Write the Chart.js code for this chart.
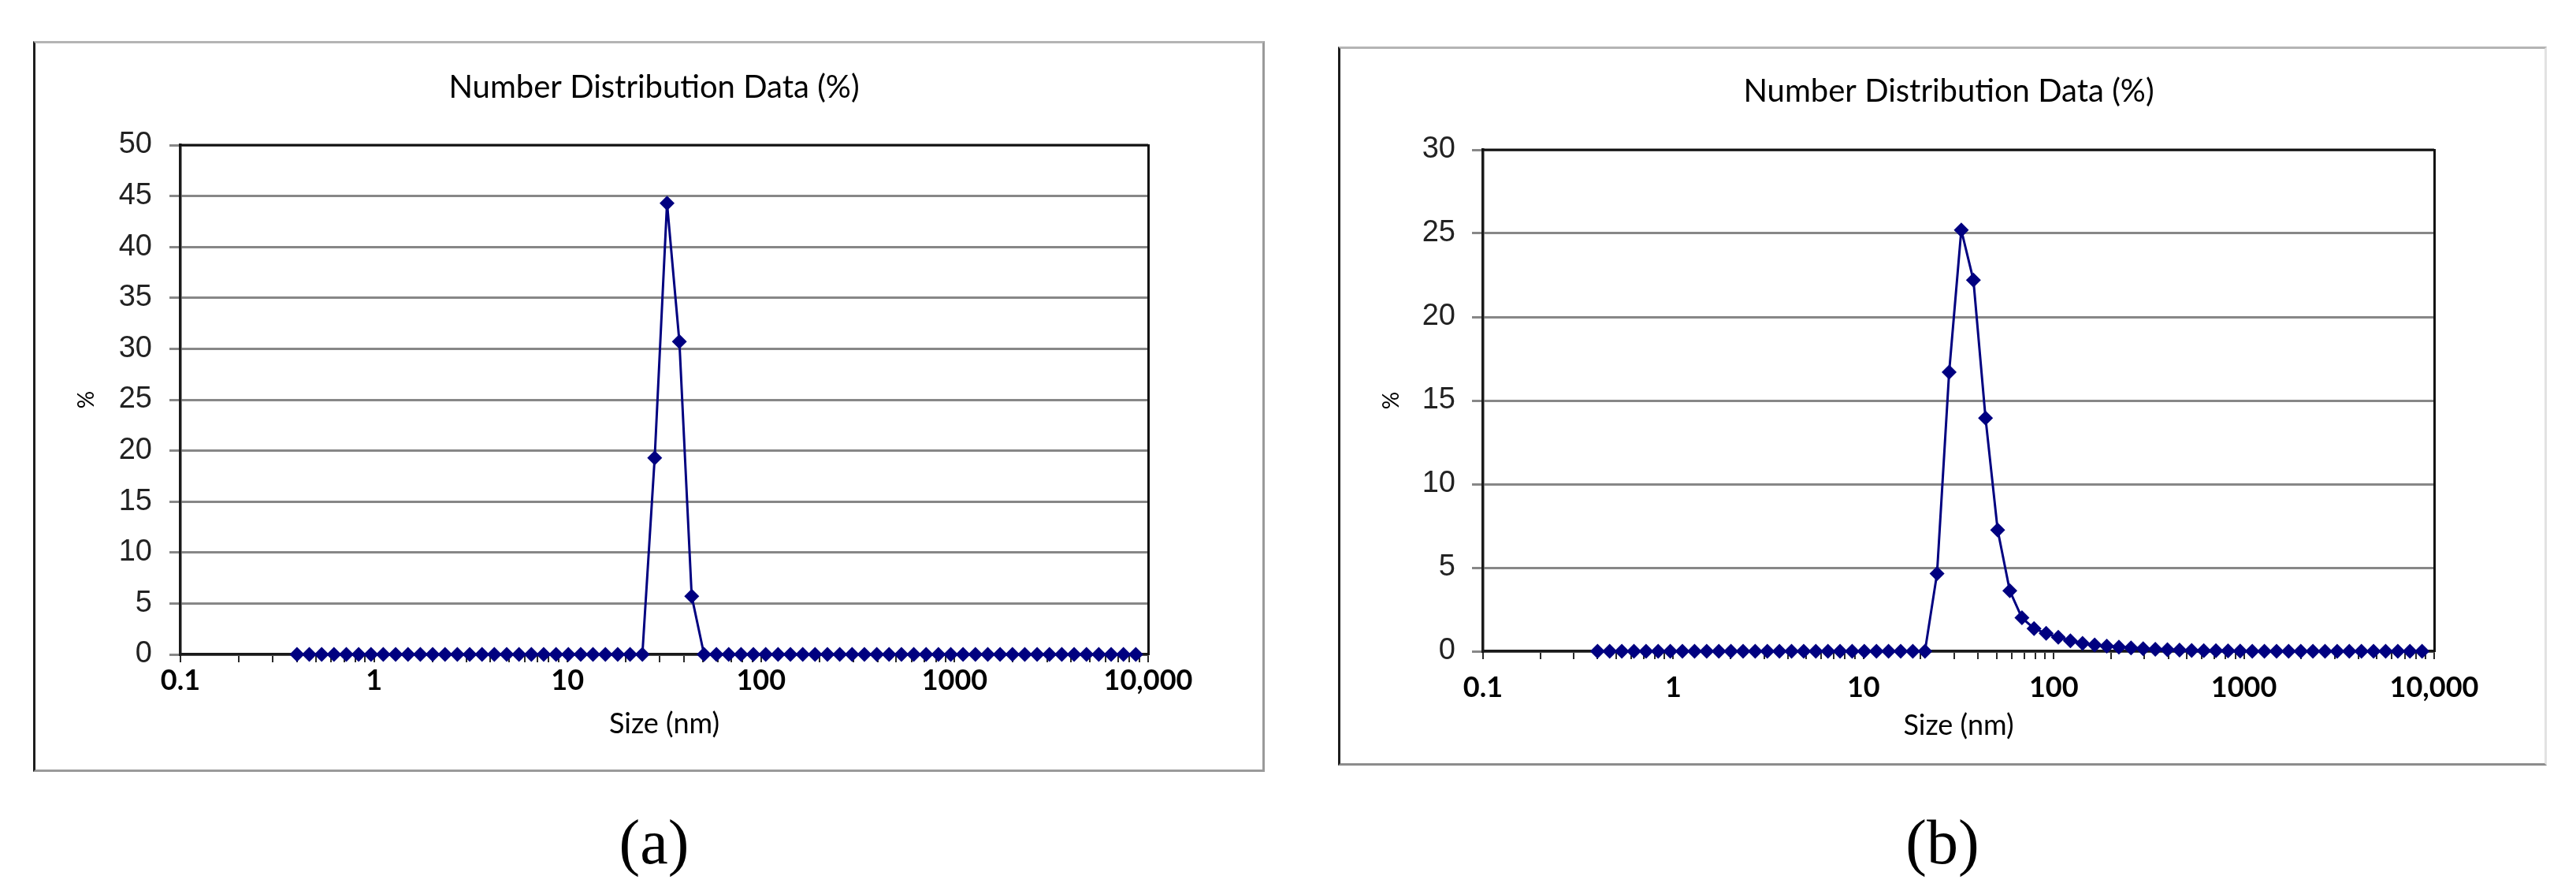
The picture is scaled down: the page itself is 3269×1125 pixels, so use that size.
<!DOCTYPE html>
<html>
<head>
<meta charset="utf-8">
<script src="https://cdn.jsdelivr.net/npm/chart.js@4.4.1/dist/chart.umd.min.js"></script>
<style>
  html, body { margin: 0; padding: 0; background: #fff; }
  body { width: 3269px; height: 1125px; position: relative; overflow: hidden; }
  .box { position: absolute; box-sizing: border-box; }
  canvas { position: absolute; }
  .cap { position: absolute; font-family: "Liberation Serif", serif; font-size: 80px; color: #000; transform: translate(-50%, -50%); white-space: nowrap; }
</style>
</head>
<body>
<div class="box" id="boxA" style="left:42px;top:52px;width:1563px;height:927px;border:3px solid #9a9a9a;border-left-color:#1e1e1e;border-top-color:#b4b4b4;"></div>
<canvas id="chartA" width="1563" height="927" style="left:42px;top:52px;"></canvas>
<div class="box" id="boxB" style="left:1698px;top:59px;width:1534px;height:912px;border:3px solid #8c8c8c;border-left-color:#1e1e1e;border-top-color:#b4b4b4;border-right-color:#e2e2e2;"></div>
<canvas id="chartB" width="1534" height="912" style="left:1698px;top:59px;"></canvas>
<div class="cap" style="left:830px;top:1068px;">(a)</div>
<div class="cap" style="left:2465px;top:1068px;">(b)</div>
<script>
// Particle size bins (nm)
const sizes = [0.4, 0.4632, 0.5365, 0.6213, 0.7195, 0.8332, 0.9649, 1.117, 1.294, 1.499,
  1.736, 2.010, 2.328, 2.696, 3.122, 3.615, 4.187, 4.849, 5.615, 6.503,
  7.531, 8.721, 10.10, 11.70, 13.54, 15.69, 18.17, 21.04, 24.36, 28.21,
  32.67, 37.84, 43.82, 50.75, 58.77, 68.06, 78.82, 91.28, 105.7, 122.4,
  141.8, 164.2, 190.1, 220.2, 255.0, 295.3, 342.0, 396.1, 458.7, 531.2,
  615.1, 712.4, 825.0, 955.4, 1106, 1281, 1484, 1718, 1990, 2305,
  2669, 3091, 3580, 4145, 4801, 5560, 6439, 7456, 8635];

// Number distribution (%) — chart (a)
const valuesA = [0, 0, 0, 0, 0, 0, 0, 0, 0, 0,
  0, 0, 0, 0, 0, 0, 0, 0, 0, 0,
  0, 0, 0, 0, 0, 0, 0, 0, 0, 19.3,
  44.3, 30.7, 5.7, 0, 0, 0, 0, 0, 0, 0,
  0, 0, 0, 0, 0, 0, 0, 0, 0, 0,
  0, 0, 0, 0, 0, 0, 0, 0, 0, 0,
  0, 0, 0, 0, 0, 0, 0, 0, 0];

// Number distribution (%) — chart (b)
const valuesB = [0, 0, 0, 0, 0, 0, 0, 0, 0, 0,
  0, 0, 0, 0, 0, 0, 0, 0, 0, 0,
  0, 0, 0, 0, 0, 0, 0, 0, 4.65, 16.7,
  25.2, 22.2, 13.95, 7.25, 3.62, 2.0, 1.36, 1.07, 0.84, 0.63,
  0.47, 0.38, 0.31, 0.25, 0.2, 0.15, 0.12, 0.09, 0.07, 0.05,
  0.04, 0.03, 0.02, 0.01, 0, 0, 0, 0, 0, 0,
  0, 0, 0, 0, 0, 0, 0, 0, 0];

// Axis ticks
const xMajorTicks = [0.1, 1, 10, 100, 1000, 10000];
const xTickLabels = ["0.1", "1", "10", "100", "1000", "10,000"];
const titleText = "Number Distribution Data (%)";
const xTitle = "Size (nm)";
const yTitle = "%";

const navy = '#000080';
const gridGrey = '#878787';

// log tick positions: majors plus 2..9 in each decade
const xTickValues = [];
for (let d = 0; d < xMajorTicks.length; d++) {
  const m = xMajorTicks[d];
  xTickValues.push(m);
  if (d < xMajorTicks.length - 1) {
    for (let k = 2; k <= 9; k++) xTickValues.push(+(m * k).toPrecision(6));
  }
}

const plotBorder = {
  id: 'plotBorder',
  beforeDatasetsDraw(chart) {
    const a = chart.chartArea, ctx = chart.ctx;
    ctx.save();
    ctx.strokeStyle = '#111';
    ctx.lineWidth = 3;
    ctx.beginPath();
    ctx.moveTo(a.left - 1.5, a.top);
    ctx.lineTo(a.right, a.top);
    ctx.stroke();
    ctx.restore();
  }
};

function makeChart(id, values, cfg) {
  const pts = sizes.map((s, i) => ({ x: s, y: values[i] }));
  return new Chart(document.getElementById(id), {
    type: 'line',
    data: {
      datasets: [{
        data: pts,
        borderColor: navy,
        backgroundColor: navy,
        borderWidth: 3,
        pointStyle: 'rectRot',
        pointRadius: 9.5,
        pointBorderWidth: 0,
        pointBackgroundColor: navy,
        tension: 0,
        clip: false
      }]
    },
    options: {
      responsive: false,
      animation: false,
      devicePixelRatio: 1,
      layout: { padding: cfg.layout },
      plugins: {
        legend: { display: false },
        tooltip: { enabled: false },
        title: {
          display: true,
          text: titleText,
          color: '#000',
          font: { family: 'Lato', size: 40, weight: 'normal' },
          padding: cfg.titlePad
        }
      },
      scales: {
        x: {
          type: 'logarithmic',
          min: 0.1,
          max: 10000,
          afterBuildTicks: (scale) => { scale.ticks = xTickValues.map(v => ({ value: v })); },
          afterFit: (scale) => { scale.height = cfg.xHeight; },
          ticks: {
            autoSkip: false,
            maxRotation: 0,
            padding: cfg.xTickPad,
            color: '#000',
            font: { family: 'Lato', size: 36, weight: 'bold' },
            callback: (v) => {
              const i = xMajorTicks.findIndex(m => Math.abs(m - v) < m * 1e-6);
              return i >= 0 ? xTickLabels[i] : '';
            }
          },
          grid: { display: true, drawOnChartArea: false, drawTicks: true, tickLength: 10, color: '#2a2a2a', lineWidth: 2 },
          border: { display: true, color: '#1a1a1a', width: 3.5 },
          title: { display: true, text: xTitle, color: '#000', font: { family: 'Lato', size: 36 }, padding: 0 }
        },
        y: {
          type: 'linear',
          min: 0,
          max: cfg.yMax,
          afterFit: (scale) => { scale.width = cfg.yWidth; },
          ticks: { stepSize: 5, padding: cfg.yTickPad, color: '#222', font: { family: 'Liberation Sans', size: 38 } },
          grid: { color: gridGrey, lineWidth: 3, tickLength: cfg.yTickLen, drawTicks: true },
          border: { display: true, color: '#1a1a1a', width: 3.5 },
          title: { display: true, text: yTitle, color: '#000', font: { family: 'Lato', size: 28 }, padding: 0 }
        },
        y2: {
          type: 'linear',
          position: 'right',
          afterFit: (scale) => { scale.width = cfg.y2Width; },
          ticks: { display: false },
          grid: { display: false, drawTicks: false },
          border: { display: true, color: '#111', width: 3 }
        }
      }
    },
    plugins: [plotBorder]
  });
}

makeChart('chartA', valuesA, {
  layout: { left: 51, right: 38, top: 10, bottom: 39 },
  titlePad: { top: 25, bottom: 49 },
  xHeight: 110, xTickPad: 2,
  yMax: 50, yWidth: 136, yTickPad: 22, yTickLen: 14,
  y2Width: 110
});

makeChart('chartB', valuesB, {
  layout: { left: 51, right: 35, top: 10, bottom: 29 },
  titlePad: { top: 23, bottom: 50 },
  xHeight: 116, xTickPad: 15,
  yMax: 30, yWidth: 133, yTickPad: 21, yTickLen: 14,
  y2Width: 108
});
</script>
</body>
</html>
